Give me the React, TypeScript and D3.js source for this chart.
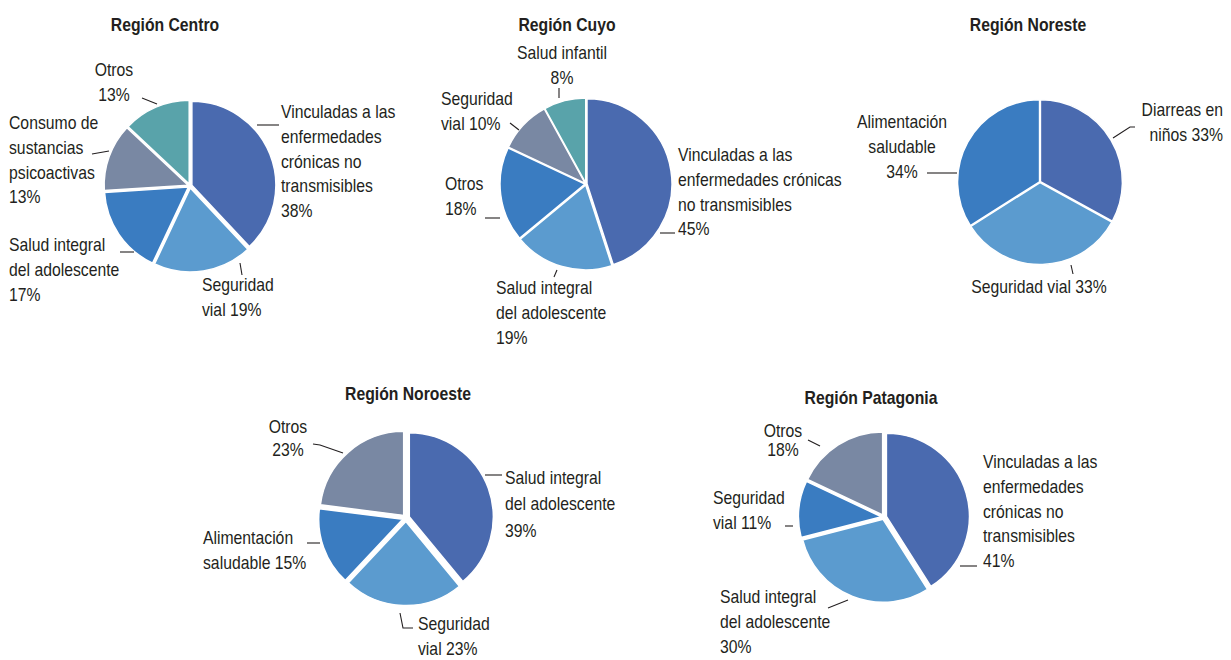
import React from 'react';
import * as d3 from 'd3';

// ---------- DATA ----------
const centroCategories = [
  'Vinculadas a las\nenfermedades\ncrónicas no\ntransmisibles',
  'Seguridad\nvial',
  'Salud integral\ndel adolescente',
  'Consumo de\nsustancias\npsicoactivas',
  'Otros',
];
const centroValues = [38, 19, 17, 13, 13];

const cuyoCategories = [
  'Vinculadas a las\nenfermedades crónicas\nno transmisibles',
  'Salud integral\ndel adolescente',
  'Otros',
  'Seguridad\nvial',
  'Salud infantil',
];
const cuyoValues = [45, 19, 18, 10, 8];

const noresteCategories = ['Diarreas en\nniños', 'Seguridad vial', 'Alimentación\nsaludable'];
const noresteValues = [33, 33, 34];

const noroesteCategories = ['Salud integral\ndel adolescente', 'Seguridad\nvial', 'Alimentación\nsaludable', 'Otros'];
const noroesteValues = [39, 23, 15, 23];

const patagoniaCategories = [
  'Vinculadas a las\nenfermedades\ncrónicas no\ntransmisibles',
  'Salud integral\ndel adolescente',
  'Seguridad\nvial',
  'Otros',
];
const patagoniaValues = [41, 30, 11, 18];

const regionTitles = ['Región Centro', 'Región Cuyo', 'Región Noreste', 'Región Noroeste', 'Región Patagonia'];

// ---------- STYLE / LAYOUT ----------
const sliceColors = ['#4a6aaf', '#5b9bcf', '#3a7cc1', '#7988a3', '#59a3aa'];
const FONT = "'Liberation Sans', Arial, sans-serif";
const TEXT = '#231f20';
const SX = 0.875; // horizontal condensing of the text

type Lbl = {
  dx: number; dy: number; anchor: 'start' | 'middle' | 'end';
  pct: 'inline' | 'newline'; lh?: number;
  leader: [number, number][];
};
type PieLayout = {
  cx: number; cy: number; r: number; explode: number;
  titleX: number; titleY: number; labels: Lbl[];
};

const layouts: PieLayout[] = [
  {
    cx: 190, cy: 186, r: 84, explode: 2, titleX: 165, titleY: 31,
    labels: [
      { dx: 91, dy: -68, anchor: 'start', pct: 'newline', leader: [[67, -61], [89, -61]] },
      { dx: 12, dy: 105, anchor: 'start', pct: 'inline', leader: [[50, 77], [52, 89]] },
      { dx: -181, dy: 65, anchor: 'start', pct: 'newline', leader: [[-70, 66], [-56, 66]] },
      { dx: -181, dy: -57, anchor: 'start', pct: 'newline', leader: [[-98, -32], [-81, -35]] },
      { dx: -76, dy: -110, anchor: 'middle', pct: 'newline', leader: [[-48, -88], [-33, -82]] },
    ],
  },
  {
    cx: 586, cy: 184, r: 85, explode: 1, titleX: 567, titleY: 31,
    labels: [
      { dx: 92, dy: -23, anchor: 'start', pct: 'newline', leader: [[74, 49], [89, 49]] },
      { dx: -90, dy: 110, anchor: 'start', pct: 'newline', leader: [[-32, 93], [-29, 86]] },
      { dx: -141, dy: 6, anchor: 'start', pct: 'newline', leader: [[-101, 34], [-86, 34]] },
      { dx: -145, dy: -79, anchor: 'start', pct: 'inline', leader: [[-76, -61], [-67, -54]] },
      { dx: -24, dy: -125, anchor: 'middle', pct: 'newline', leader: [[-27, -96], [-27, -86]] },
    ],
  },
  {
    cx: 1040, cy: 182, r: 82, explode: 0.5, titleX: 1028, titleY: 31,
    labels: [
      { dx: 183, dy: -66, anchor: 'end', pct: 'inline', leader: [[73, -44], [90, -55], [95, -55]] },
      { dx: -1, dy: 111, anchor: 'middle', pct: 'inline', leader: [[31, 83], [33, 92]] },
      { dx: -138, dy: -54, anchor: 'middle', pct: 'newline', leader: [[-113, -9], [-83, -9]] },
    ],
  },
  {
    cx: 406, cy: 518, r: 84, explode: 3.5, titleX: 408, titleY: 400,
    labels: [
      { dx: 99, dy: -34, anchor: 'start', pct: 'newline', lh: 26.5, leader: [[79, -43], [96, -43]] },
      { dx: 12, dy: 112, anchor: 'start', pct: 'inline', lh: 25, leader: [[-6, 95], [-3, 110], [7, 110]] },
      { dx: -203, dy: 26, anchor: 'start', pct: 'inline', leader: [[-99, 25], [-86, 25]] },
      { dx: -118, dy: -85, anchor: 'middle', pct: 'newline', lh: 23, leader: [[-93, -74], [-86, -73], [-63, -65]] },
    ],
  },
  {
    cx: 884, cy: 517, r: 83, explode: 2.5, titleX: 871, titleY: 404,
    labels: [
      { dx: 99, dy: -49, anchor: 'start', pct: 'newline', leader: [[76, 49], [93, 49]] },
      { dx: -164, dy: 86, anchor: 'start', pct: 'newline', leader: [[-56, 91], [-36, 83]] },
      { dx: -171, dy: -13, anchor: 'start', pct: 'inline', leader: [[-99, 9], [-91, 9]] },
      { dx: -101, dy: -80, anchor: 'middle', pct: 'newline', lh: 19, leader: [[-76, -77], [-64, -71]] },
    ],
  },
];

const regionCategories = [centroCategories, cuyoCategories, noresteCategories, noroesteCategories, patagoniaCategories];
const regionValues = [centroValues, cuyoValues, noresteValues, noroesteValues, patagoniaValues];

function PieChart({ idx }: { idx: number }) {
  const L = layouts[idx];
  const cats = regionCategories[idx];
  const vals = regionValues[idx];
  const pie = d3.pie<number>().sort(null).value((d) => d);
  const arcs = pie(vals);
  const arc = d3.arc<d3.PieArcDatum<number>>().innerRadius(0).outerRadius(L.r);
  const line = d3.line();
  return (
    <g>
      <g transform={`translate(${L.titleX},${L.titleY}) scale(${SX},1)`}>
        <text x={0} y={0} textAnchor="middle" fontFamily={FONT} fontWeight="bold" fontSize={18} fill={TEXT}>
          {regionTitles[idx]}
        </text>
      </g>
      <g transform={`translate(${L.cx},${L.cy})`}>
        {arcs.map((a, i) => {
          const mid = (a.startAngle + a.endAngle) / 2;
          const ox = Math.sin(mid) * L.explode;
          const oy = -Math.cos(mid) * L.explode;
          return (
            <path key={i} d={arc(a) || ''} transform={`translate(${ox},${oy})`} fill={sliceColors[i]} stroke="#fff" strokeWidth={1.5} strokeLinejoin="round" />
          );
        })}
        {arcs.map((a, i) => {
          const lb = L.labels[i];
          const lines = cats[i].split('\n');
          const pct = `${vals[i]}%`;
          if (lb.pct === 'inline') lines[lines.length - 1] = `${lines[lines.length - 1]} ${pct}`;
          else lines.push(pct);
          const lh = lb.lh ?? 24.8;
          return (
            <g key={'l' + i}>
              <path d={line(lb.leader) || ''} fill="none" stroke={TEXT} strokeWidth={1.1} />
              <g transform={`translate(${lb.dx},${lb.dy}) scale(${SX},1)`}>
                <text x={0} y={0} textAnchor={lb.anchor} fontFamily={FONT} fontSize={18} fill={TEXT}>
                  {lines.map((t, j) => (
                    <tspan key={j} x={0} y={j * lh}>{t}</tspan>
                  ))}
                </text>
              </g>
            </g>
          );
        })}
      </g>
    </g>
  );
}

export default function App() {
  return (
    <svg width={1231} height={660} style={{ position: 'absolute', left: 0, top: 0, background: '#fff' }}>
      <rect width={1231} height={660} fill="#fff" />
      {layouts.map((_, i) => (
        <PieChart key={i} idx={i} />
      ))}
    </svg>
  );
}
